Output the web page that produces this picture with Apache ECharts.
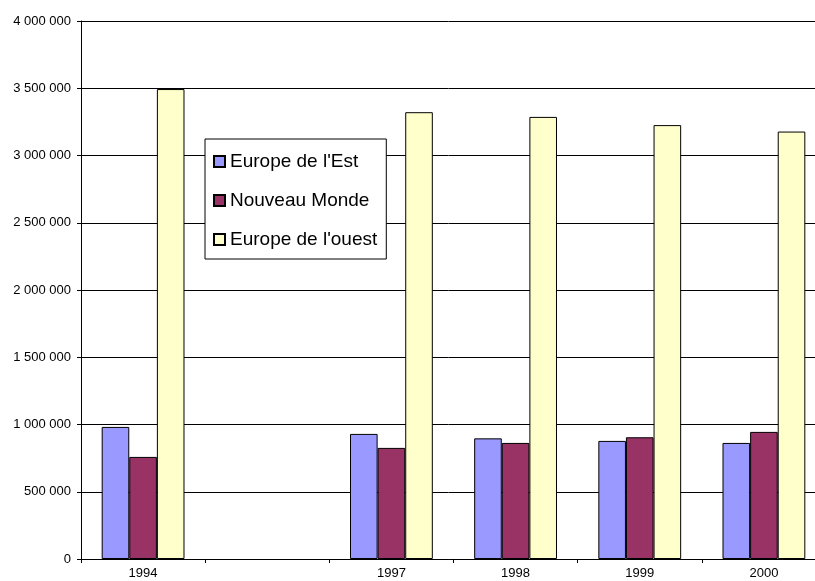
<!DOCTYPE html>
<html>
<head>
<meta charset="utf-8">
<script src="https://cdn.jsdelivr.net/npm/echarts@6/dist/echarts.min.js"></script>
<style>
  html, body { margin: 0; padding: 0; background: #fff; }
  #chart { width: 815px; height: 581px; }
</style>
</head>
<body>
<div id="chart"></div>
<script>
// années (le 2e emplacement est vide)
var categories = ["1994", "", "1997", "1998", "1999", "2000"];
var europeEst = [982000, null, 930000, 897000, 878000, 863000];
var nouveauMonde = [759000, null, 826000, 863000, 905000, 945000];
var europeOuest = [3494000, null, 3322000, 3287000, 3226000, 3178000];
var seriesNames = ["Europe de l'Est", "Nouveau Monde", "Europe de l'ouest"];
var seriesColors = ["#9999FF", "#993366", "#FFFFCC"];

// séparateur de milliers : espace
function fmt(v) {
  return String(v).replace(/\B(?=(\d{3})+(?!\d))/g, " ");
}

var chart = echarts.init(document.getElementById("chart"));

function bar(name, data, color) {
  return {
    name: name,
    type: "bar",
    data: data,
    barGap: "0%",
    barCategoryGap: "33.3%",
    itemStyle: { color: color, borderColor: "#000", borderWidth: 1 }
  };
}

var option = {
  animation: false,
  textStyle: { fontFamily: "Liberation Sans, Arial, sans-serif" },
  // la zone de tracé déborde un peu à droite, comme dans l'original
  grid: { left: 81, top: 21, width: 745, bottom: 22, show: false, outerBoundsMode: "none" },
  legend: {
    orient: "vertical",
    left: 205,
    top: 139,
    padding: [13, 9, 10, 8],
    itemGap: 20,
    itemWidth: 11,
    itemHeight: 11,
    icon: "rect",
    backgroundColor: "#fff",
    borderColor: "#000",
    borderWidth: 1,
    z: 10,
    textStyle: { fontSize: 19, color: "#000", lineHeight: 18 },
    data: seriesNames
  },
  xAxis: {
    type: "category",
    data: categories,
    axisLine: { lineStyle: { color: "#000" } },
    axisTick: { show: true, length: 4, lineStyle: { color: "#000" } },
    axisLabel: { color: "#000", fontSize: 13, margin: 8, interval: 0 }
  },
  yAxis: {
    type: "value",
    min: 0,
    max: 4000000,
    interval: 500000,
    axisLine: { show: true, lineStyle: { color: "#000" } },
    axisTick: { show: true, length: 4, lineStyle: { color: "#000" } },
    axisLabel: { color: "#000", fontSize: 13, margin: 10, formatter: fmt },
    splitLine: { lineStyle: { color: "#000", width: 1 } }
  },
  series: [
    bar(seriesNames[0], europeEst, seriesColors[0]),
    bar(seriesNames[1], nouveauMonde, seriesColors[1]),
    bar(seriesNames[2], europeOuest, seriesColors[2])
  ]
};

chart.setOption(option);
</script>
</body>
</html>
